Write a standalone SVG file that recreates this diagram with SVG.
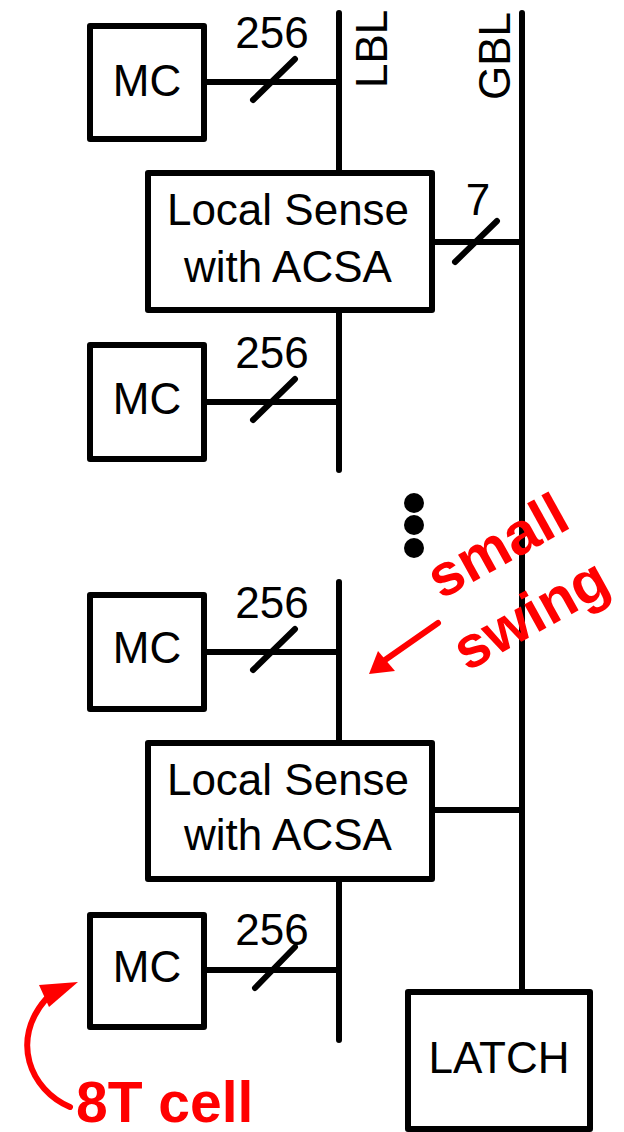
<svg xmlns="http://www.w3.org/2000/svg" width="624" height="1132" viewBox="0 0 624 1132">
<style>
.box{fill:#fff;stroke:#000;stroke-width:6;stroke-linejoin:round}
.w{fill:none;stroke:#000;stroke-width:6;stroke-linecap:round}
.t{font-family:"Liberation Sans",Arial,sans-serif;font-size:44px;fill:#000}
.c{text-anchor:middle}
.r{font-family:"Liberation Sans",Arial,sans-serif;font-weight:bold;fill:#f00}
.ra{fill:none;stroke:#f00;stroke-width:6;stroke-linecap:round}
</style>
<g id="connectors">
<path class="w" d="M339 13V173M339 310V470M339 582V743M339 879V1040M522 13V992"/>
<path class="w" d="M204 82H339M204 402H339M204 652H339M204 970H339M432 242H522M432 810H522" style="stroke-linecap:butt"/>
<path class="w" d="M253 100L295 59M253 420L295 379M253 670L295 629M255 988L295 947M455 262L497 221"/>
<text class="t c" x="272" y="48">256</text>
<text class="t c" x="272" y="368">256</text>
<text class="t c" x="272" y="618">256</text>
<text class="t c" x="272" y="945">256</text>
<text class="t c" x="478" y="215">7</text>
<text class="t" transform="translate(387 88) rotate(-90)">LBL</text>
<text class="t" transform="translate(510 100) rotate(-90)">GBL</text>
</g>
<g id="mc1"><rect class="box" x="90" y="26" width="114" height="113"/><text class="t c" x="147" y="96">MC</text></g>
<g id="ls1"><rect class="box" x="148" y="173" width="284" height="137"/><text class="t c" x="288" y="225">Local Sense</text><text class="t c" x="288" y="282">with ACSA</text></g>
<g id="mc2"><rect class="box" x="90" y="345" width="114" height="114"/><text class="t c" x="147" y="414">MC</text></g>
<g id="dots"><circle cx="414" cy="503" r="10"/><circle cx="414" cy="525" r="10"/><circle cx="414" cy="548" r="10"/></g>
<g id="mc3"><rect class="box" x="90" y="595" width="114" height="114"/><text class="t c" x="147" y="663">MC</text></g>
<g id="ls2"><rect class="box" x="148" y="743" width="284" height="136"/><text class="t c" x="288" y="795">Local Sense</text><text class="t c" x="288" y="850">with ACSA</text></g>
<g id="mc4"><rect class="box" x="90" y="915" width="114" height="112"/><text class="t c" x="147" y="982">MC</text></g>
<g id="latch"><rect class="box" x="408" y="992" width="182" height="137"/><text class="t c" x="499" y="1073">LATCH</text></g>
<g id="annot-swing">
<text class="r" font-size="59" transform="translate(441 600) rotate(-29)">small</text>
<text class="r" font-size="59" transform="translate(467 672) rotate(-29)">swing</text>
<path class="ra" d="M438 623L385 660"/>
<polygon fill="#f00" points="369,674 378,651 395,671"/>
</g>
<g id="annot-cell">
<path class="ra" d="M70 1107C30 1090 10 1040 46 999"/>
<polygon fill="#f00" points="78,982 39,985 49,1007"/>
<text class="r" font-size="57" x="76" y="1122">8T cell</text>
</g>
</svg>
